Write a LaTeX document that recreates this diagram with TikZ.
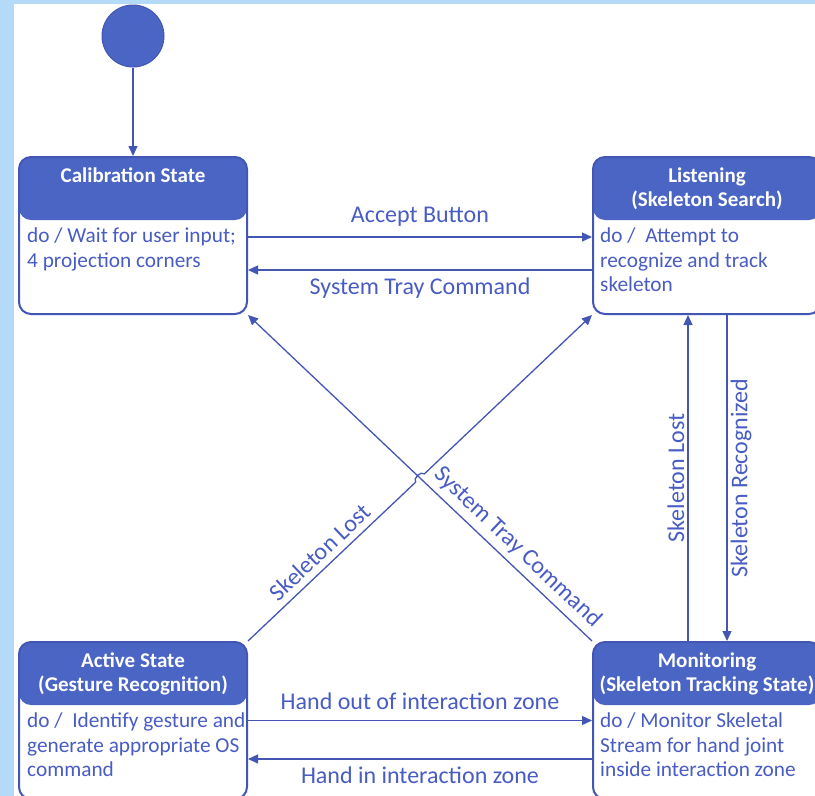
\documentclass[tikz,border=0pt]{standalone}
\usepackage{fontspec}
\setmainfont{Carlito}
\usetikzlibrary{arrows.meta,calc}

\definecolor{stateblue}{RGB}{74,101,196}
\definecolor{lineblue}{RGB}{68,86,180}
\definecolor{textblue}{RGB}{72,92,196}
\definecolor{framebg}{RGB}{180,218,248}

\begin{document}
\begin{tikzpicture}[x=1pt,y=-1pt,>={Triangle[length=10pt,width=9pt]}]
  \tikzstyle{state box}=[draw=lineblue,line width=2pt,rounded corners=12pt,fill=white,
    minimum width=228pt,minimum height=157pt,inner sep=0pt,
    path picture={\fill[stateblue] (path picture bounding box.north west) rectangle ([yshift=-63pt]path picture bounding box.north east);}]
  \tikzstyle{state title}=[text=white,align=center,anchor=north,inner sep=0pt,font=\fontsize{21}{23.5}\selectfont\bfseries]
  \tikzstyle{state body}=[text=textblue,align=left,anchor=north west,inner sep=0pt,font=\fontsize{21.3}{24.5}\selectfont]
  \tikzstyle{trans}=[->,draw=lineblue,line width=1.3pt]
  \tikzstyle{trans label}=[text=textblue,font=\fontsize{24}{28}\selectfont,inner sep=3pt]

  \fill[framebg] (0,0) rectangle (815,796);
  \fill[white] (14,4) rectangle (815,796);
  \useasboundingbox (0,0) rectangle (815,796);

  % states
  \node[circle,fill=stateblue,draw=lineblue,line width=1pt,minimum size=62pt] (init) at (133,36) {};
  \node[state box] (calib)   at (133,235.5) {};
  \node[state box] (listen)  at (707,235.5) {};
  \node[state box] (active)  at (133,720.5) {};
  \node[state box] (monitor) at (707,720.5) {};

  \node[state title] (calibT)   at (133,168) {Calibration State};
  \node[state title] (listenT)  at (707,168) {Listening\\(Skeleton Search)};
  \node[state title] (activeT)  at (133,653) {Active State\\(Gesture Recognition)};
  \node[state title] (monitorT) at (707,653) {Monitoring\\(Skeleton Tracking State)};

  \node[state body] (calibB)   at (27,228)  {do / Wait for user input;\\4 projection corners};
  \node[state body] (listenB)  at (600,228) {do /\ \ Attempt to\\recognize and track\\skeleton};
  \node[state body] (activeB)  at (27,713)  {do /\ \ Identify gesture and\\generate appropriate OS\\command};
  \node[state body] (monitorB) at (600,713) {do / Monitor Skeletal\\Stream for hand joint\\inside interaction zone};

  % transitions
  \draw[trans] (init) -- (calib);
  \draw[trans] ([yshift=-1.5pt]calib.east) -- node[trans label,above=7pt] {Accept Button} ([yshift=-1.5pt]listen.west);
  \draw[trans] ([yshift=-34.5pt]listen.west) -- node[trans label,below=4pt] {System Tray Command} ([yshift=-34.5pt]calib.east);
  \draw[trans] (active.east) -- node[trans label,above=7pt] {Hand out of interaction zone} (monitor.west);
  \draw[trans] ([yshift=-38.5pt]monitor.west) -- node[trans label,below=4pt] {Hand in interaction zone} ([yshift=-38.5pt]active.east);
  \draw[trans] ([xshift=-19pt]monitor.north) -- node[trans label,midway,rotate=90,anchor=south] {Skeleton Lost} ([xshift=-19pt]listen.south);
  \draw[trans] ([xshift=20pt]listen.south) -- node[trans label,midway,rotate=90,anchor=north] {Skeleton Recognized} ([xshift=20pt]monitor.north);

  \coordinate (hop) at ($(active.north east)!0.5!(listen.south west)$);
  \draw[trans] (active.north east) -- node[trans label,sloped,above=3pt,pos=0.49] {Skeleton Lost} ($(hop)!6pt!(active.north east)$)
    to[bend left=90] ($(hop)!6pt!(listen.south west)$) -- (listen.south west);
  \draw[trans] (monitor.north west) -- node[trans label,sloped,above=3pt,pos=0.25] {System Tray Command} (calib.south east);
\end{tikzpicture}
\end{document}
